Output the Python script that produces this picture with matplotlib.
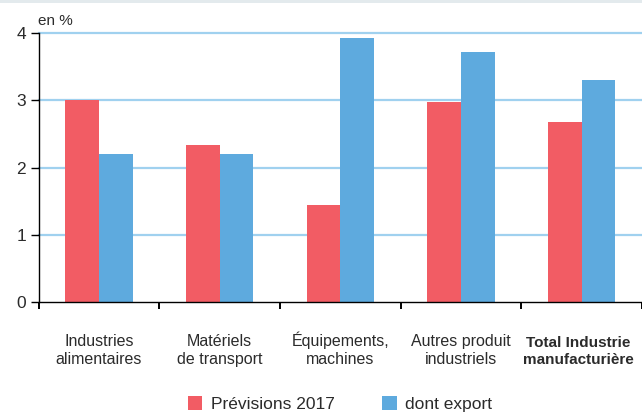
import numpy as np
import matplotlib
matplotlib.use("Agg")
import matplotlib.pyplot as plt
from matplotlib.patches import Rectangle, Patch

# Data
categories = ["Industries\nalimentaires", "Matériels\nde transport",
              "Équipements,\nmachines", "Autres produit\nindustriels",
              "Total Industrie\nmanufacturière"]
previsions_2017 = [3.0, 2.33, 1.44, 2.98, 2.67]
dont_export = [2.2, 2.2, 3.93, 3.72, 3.3]
series_labels = ["Prévisions 2017", "dont export"]
yticks = [0, 1, 2, 3, 4]

RED = "#f25c64"
BLUE = "#5eaade"
GRID = "#a0d1ef"
TEXT = "#2b2b2b"

plt.rcParams["font.family"] = ["Liberation Sans Narrow", "Liberation Sans", "DejaVu Sans"]

W, H = 642, 412
fig = plt.figure(figsize=(W / 100, H / 100), dpi=100)

# thin grey strip on top
fig.patches.append(Rectangle((0, 1 - 3 / H), 1, 3 / H, transform=fig.transFigure,
                             facecolor="#e3eaed", edgecolor="none"))

left_px, bottom_px, top_px = 38.7, 302, 33
ax = fig.add_axes([left_px / W, (H - bottom_px) / H, 1 - left_px / W,
                   (bottom_px - top_px) / H])

x = np.arange(len(categories))
bw = 0.28
ax.bar(x - bw / 2, previsions_2017, bw, color=RED, zorder=3)
ax.bar(x + bw / 2, dont_export, bw, color=BLUE, zorder=3)

ax.set_xlim(-0.5, -0.5 + (W - left_px) / 121.5)
ax.set_ylim(0, 4)

for v in yticks[1:]:
    ax.axhline(v, color=GRID, lw=1.6, zorder=1, clip_on=False)

for s in ["top", "right"]:
    ax.spines[s].set_visible(False)
for s in ["left", "bottom"]:
    ax.spines[s].set_linewidth(1.0)
    ax.spines[s].set_color("black")
    ax.spines[s].set_zorder(4)

ax.set_yticks(yticks)
ax.set_yticklabels([str(v) for v in yticks])
ax.tick_params(axis="y", length=6, width=1.0, pad=3, labelsize=12.5, labelcolor=TEXT)

ax.set_xticks(np.arange(len(categories) + 1) - 0.5)
ax.set_xticklabels([])
ax.tick_params(axis="x", length=5, width=1.4, direction="out")

# category labels
for i, lab in enumerate(categories):
    last = i == len(categories) - 1
    ax.text(i - (0.03 if last else 0), -0.2305, lab, transform=ax.get_xaxis_transform(),
            ha="center", va="baseline", fontsize=11 if last else 11.5, color=TEXT,
            linespacing=1.25, fontweight="bold" if last else "normal")

fig.text(38 / W, 1 - 25 / H, "en %", fontsize=11, color=TEXT, ha="left", va="baseline")

handles = [Patch(facecolor=RED, edgecolor="none", label=series_labels[0]),
           Patch(facecolor=BLUE, edgecolor="none", label=series_labels[1])]
fig.legend(handles=handles, loc="center", bbox_to_anchor=(340 / W, 1 - 404 / H),
           ncol=2, frameon=False, fontsize=12.5, handlelength=0.86, handleheight=0.86,
           handletextpad=0.5, columnspacing=2.7, borderpad=0, labelcolor=TEXT)

fig.savefig("out.png", dpi=100)
